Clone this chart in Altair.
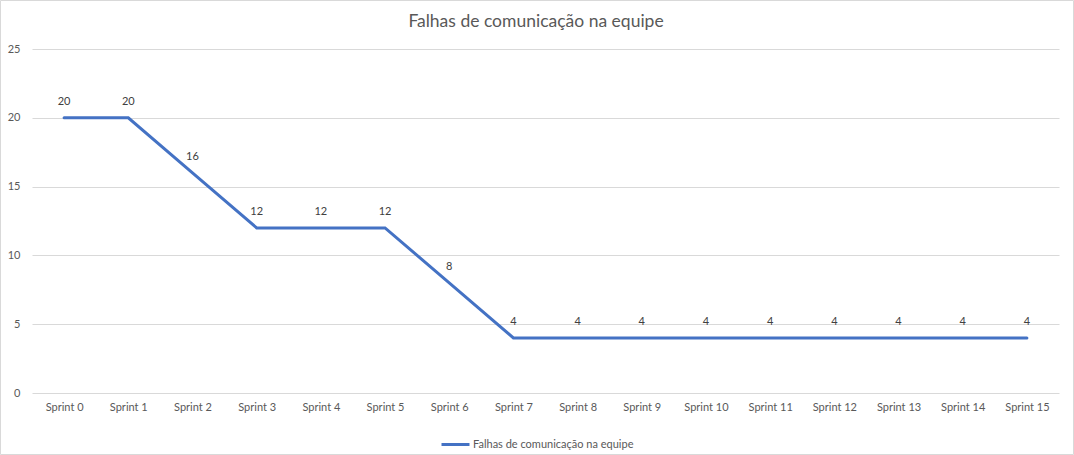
import altair as alt
import pandas as pd

sprints = [f"Sprint {i}" for i in range(16)]
falhas = [20, 20, 16, 12, 12, 12, 8, 4, 4, 4, 4, 4, 4, 4, 4, 4]
serie = "Falhas de comunicação na equipe"
titulo = "Falhas de comunicação na equipe"

df = pd.DataFrame({"Sprint": sprints, "Falhas": falhas, "Serie": [serie] * len(sprints)})
one = pd.DataFrame({"t": [titulo]})

FONT = "Lato"
W, H = 1027, 344
PL, PT, PR, PB = 32, 49, 15, 62

x = alt.X("Sprint:N", sort=sprints,
          scale=alt.Scale(type="point", padding=0.5),
          axis=alt.Axis(title=None, labelAngle=0, domain=False, ticks=False,
                        labelPadding=8, labelFontSize=11, labelColor="#595959",
                        labelFont=FONT, grid=False))
y = alt.Y("Falhas:Q", scale=alt.Scale(domain=[0, 25], nice=False),
          axis=alt.Axis(title=None, values=[0, 5, 10, 15, 20, 25], domain=False,
                        ticks=False, labelPadding=12, labelFontSize=11,
                        labelColor="#595959", labelFont=FONT,
                        grid=True, gridColor="#d9d9d9", gridWidth=1))

line = alt.Chart(df).mark_line(strokeWidth=3, strokeCap="round").encode(
    x=x, y=y,
    color=alt.Color("Serie:N", scale=alt.Scale(range=["#4472C4"]),
                    legend=alt.Legend(title=None, orient="none", legendX=408, legendY=380,
                                      symbolType="stroke", symbolSize=784,
                                      symbolStrokeWidth=3, labelFont=FONT,
                                      labelFontSize=11, labelColor="#595959",
                                      labelOffset=2, labelLimit=0))
)

labels = alt.Chart(df).mark_text(dy=-16, fontSize=11, font=FONT, color="#404040").encode(
    x=alt.X("Sprint:N", sort=sprints), y="Falhas:Q", text="Falhas:Q"
)

border = alt.Chart(one).mark_rect(fill=None, stroke="#d9d9d9", strokeWidth=1).encode(
    x=alt.value(-PL + 0.5), x2=alt.value(W + PR - 0.5),
    y=alt.value(-PT + 0.5), y2=alt.value(H + PB - 0.5)
)

title = alt.Chart(one).mark_text(font=FONT, fontSize=17.5, fontWeight="normal",
                                 color="#595959", baseline="middle", align="center").encode(
    x=alt.value(504), y=alt.value(22 - PT), text="t:N"
)

chart = alt.layer(border, line, labels, title).properties(
    width=W, height=H,
    autosize=alt.AutoSizeParams(type="none"),
    padding={"left": PL, "top": PT, "right": PR, "bottom": PB},
    background="white",
).configure_view(stroke=None)

chart.save("out.html", embed_options={"renderer": "svg", "actions": False})
